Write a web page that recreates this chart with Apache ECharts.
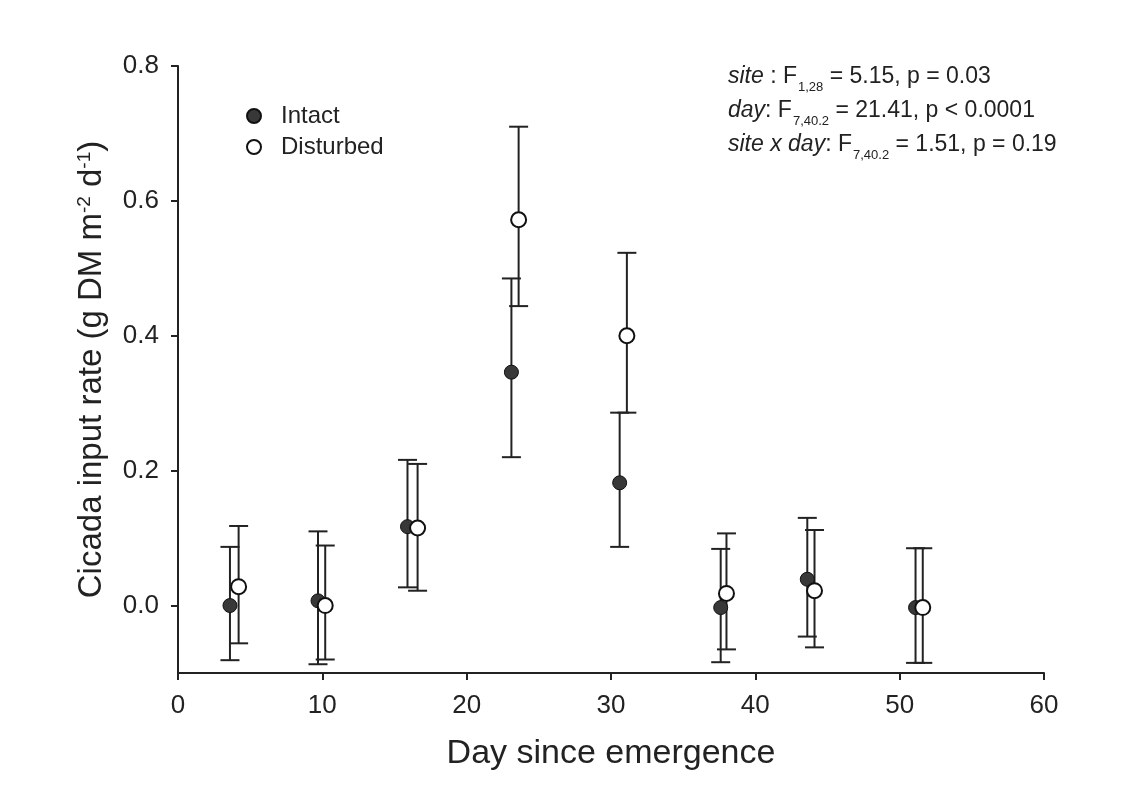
<!DOCTYPE html>
<html>
<head>
<meta charset="utf-8">
<script src="https://cdn.jsdelivr.net/npm/echarts@6/dist/echarts.min.js"></script>
<style>
  html, body { margin: 0; padding: 0; background: #fff; }
  #main { width: 1134px; height: 803px; }
</style>
</head>
<body>
<div id="main"></div>
<script>
var dom = document.getElementById('main')
var chart = echarts.init(dom)

// values
var intactDay = [3.6, 9.7, 15.9, 23.1, 30.6, 37.6, 43.6, 51.1];
var intactMean = [0.0, 0.007, 0.117, 0.346, 0.182, -0.003, 0.039, -0.003];
var intactLow = [-0.081, -0.087, 0.027, 0.220, 0.087, -0.084, -0.046, -0.085];
var intactHigh = [0.087, 0.110, 0.216, 0.485, 0.286, 0.084, 0.130, 0.085];

var disturbedDay = [4.2, 10.2, 16.6, 23.6, 31.1, 38.0, 44.1, 51.6];
var disturbedMean = [0.028, 0.0, 0.115, 0.572, 0.400, 0.018, 0.022, -0.003];
var disturbedLow = [-0.056, -0.080, 0.022, 0.444, 0.286, -0.065, -0.062, -0.085];
var disturbedHigh = [0.118, 0.089, 0.210, 0.710, 0.523, 0.107, 0.112, 0.085];

var yTicks = [0, 0.2, 0.4, 0.6, 0.8];

var statLines = [
    '{it|site} : F{sub|1,28} = 5.15, p = 0.03',
    '{it|day}: F{sub|7,40.2} = 21.41, p < 0.0001',
    '{it|site x day}: F{sub|7,40.2} = 1.51, p = 0.19'
];

var FONT = 'Liberation Sans';
var INK = '#222';

function errData(day, lo, hi) {
    return day.map(function (d, i) { return [d, lo[i], hi[i]]; });
}
function pts(day, mean) {
    return day.map(function (d, i) { return [d, mean[i]]; });
}

function renderErr(params, api) {
    var x = api.value(0);
    var lo = api.coord([x, api.value(1)]);
    var hi = api.coord([x, api.value(2)]);
    var w = 9.5;
    var st = { stroke: INK, lineWidth: 2 };
    return {
        type: 'group',
        children: [
            { type: 'line', shape: { x1: lo[0], y1: lo[1], x2: hi[0], y2: hi[1] }, style: st },
            { type: 'line', shape: { x1: lo[0] - w, y1: lo[1], x2: lo[0] + w, y2: lo[1] }, style: st },
            { type: 'line', shape: { x1: hi[0] - w, y1: hi[1], x2: hi[0] + w, y2: hi[1] }, style: st }
        ]
    };
}

var statRich = {
    it: { fontStyle: 'italic', fontSize: 23, fontFamily: FONT, lineHeight: 34 },
    sub: { fontSize: 13, fontFamily: FONT, verticalAlign: 'bottom', lineHeight: 34, padding: [0, 0, 0, 1] }
};

var options = {
    backgroundColor: '#fff',
    animation: false,
    textStyle: { fontFamily: FONT },
    grid: { left: 178, right: 90, top: 66, bottom: 130, containLabel: false },
    legend: {
        orient: 'vertical',
        left: 241,
        top: 98,
        itemGap: 5,
        itemWidth: 14,
        itemHeight: 14,
        icon: 'circle',
        textStyle: { fontFamily: FONT, fontSize: 24, lineHeight: 26, color: INK, padding: [0, 0, 0, 15] },
        data: ['Intact', 'Disturbed']
    },
    xAxis: {
        type: 'value',
        min: 0,
        max: 60,
        interval: 10,
        name: 'Day since emergence',
        nameLocation: 'middle',
        nameGap: 64,
        nameTextStyle: { fontFamily: FONT, fontSize: 34, color: INK },
        axisLine: { show: true, onZero: false, lineStyle: { color: INK, width: 2 } },
        axisTick: { show: true, inside: false, length: 7, lineStyle: { color: INK, width: 2 } },
        axisLabel: { fontFamily: FONT, fontSize: 26, color: INK, margin: 20 },
        splitLine: { show: false }
    },
    yAxis: {
        type: 'value',
        min: -0.1,
        max: 0.8,
        name: 'Cicada input rate (g DM m{sup|-2} d{sup|-1})',
        nameLocation: 'middle',
        nameRotate: 90,
        nameGap: 70,
        nameTextStyle: {
            fontFamily: FONT, fontSize: 33, color: INK,
            rich: {
                sup: { fontFamily: FONT, fontSize: 19, color: INK, verticalAlign: 'top', lineHeight: 22 }
            }
        },
        axisLine: { show: true, onZero: false, lineStyle: { color: INK, width: 2 } },
        axisTick: { show: true, inside: false, length: 7, customValues: yTicks, lineStyle: { color: INK, width: 2 } },
        axisLabel: {
            fontFamily: FONT, fontSize: 26, color: INK, margin: 19,
            customValues: yTicks,
            formatter: function (v) { return v.toFixed(1); }
        },
        splitLine: { show: false }
    },
    graphic: statLines.map(function (t, i) {
        return {
            type: 'text',
            left: 728,
            top: 60 + i * 34,
            style: {
                text: t,
                font: '23px ' + FONT,
                fill: INK,
                lineHeight: 34,
                rich: statRich
            }
        };
    }),
    series: [
        {
            type: 'custom',
            name: 'Intact err',
            renderItem: renderErr,
            data: errData(intactDay, intactLow, intactHigh),
            encode: { x: 0, y: [1, 2] },
            z: 2,
            silent: true
        },
        {
            type: 'custom',
            name: 'Disturbed err',
            renderItem: renderErr,
            data: errData(disturbedDay, disturbedLow, disturbedHigh),
            encode: { x: 0, y: [1, 2] },
            z: 2,
            silent: true
        },
        {
            type: 'scatter',
            name: 'Intact',
            symbol: 'circle',
            symbolSize: 14,
            itemStyle: { color: '#383838', borderColor: '#111', borderWidth: 1, opacity: 1 },
            data: pts(intactDay, intactMean),
            z: 3
        },
        {
            type: 'scatter',
            name: 'Disturbed',
            symbol: 'circle',
            symbolSize: 15,
            itemStyle: { color: '#fff', borderColor: '#111', borderWidth: 2, opacity: 1 },
            data: pts(disturbedDay, disturbedMean),
            z: 4
        }
    ]
}

chart.setOption(options)
</script>
</body>
</html>
